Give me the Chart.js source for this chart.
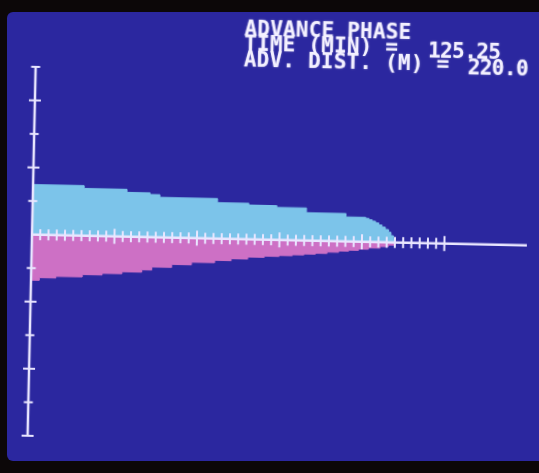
<!DOCTYPE html>
<html>
<head>
<meta charset="utf-8">
<script src="https://cdn.jsdelivr.net/npm/chart.js@4.4.1/dist/chart.umd.min.js"></script>
<style>
  html, body { margin: 0; padding: 0; background: #0c0708; }
  body { width: 539px; height: 473px; position: relative; overflow: hidden; }
  #screen {
    position: absolute; left: 7px; top: 12px; width: 532px; height: 449px;
    background: #2b279f; border-radius: 6px 0 0 6px;
  }
  #tilt {
    position: absolute; left: 0; top: 0; width: 539px; height: 473px;
    transform: rotate(1.25deg); transform-origin: 269.5px 236.5px;
  }
  #pmChart { position: absolute; left: 0; top: 0; }
  .txt {
    position: absolute; color: #f3f0ff; white-space: pre;
    font: bold 21px "DejaVu Sans Mono", monospace; line-height: 21px;
    letter-spacing: 0.2px; text-shadow: 0 0 2px rgba(255,255,255,0.45);
  }
  .num { letter-spacing: -0.6px; }
</style>
</head>
<body>
<div id="screen"></div>
<div id="tilt">
  <canvas id="pmChart" width="539" height="473"></canvas>
  <div class="txt" style="left:240px; top:19px;">ADVANCE PHASE</div>
  <div class="txt" style="left:240px; top:34px;">TIME (MIN) =</div>
  <div class="txt num" style="left:424px; top:37px;">125.25</div>
  <div class="txt" style="left:240px; top:50px;">ADV. DIST. (M) =</div>
  <div class="txt num" style="left:464px; top:53px;">220.0</div>
</div>
<script>
// surface water depth (above the axis), step starts in metres
const surfDist  = [0, 31, 57, 71, 77, 112, 131, 148, 166, 190, 202, 204, 206, 208, 210, 212, 214, 216, 217.5, 219, 220];
const surfDepth = [1.49, 1.41, 1.32, 1.27, 1.19, 1.07, 1.02, 0.97, 0.83, 0.73, 0.70, 0.66, 0.62, 0.57, 0.51, 0.45, 0.38, 0.30, 0.20, 0.10, 0];

// infiltrated depth (below the axis)
const infDist  = [0, 5, 15, 31, 43, 55, 67, 73, 85, 97, 111, 121, 131, 141, 150, 158, 165, 172, 179, 186, 192, 198, 204, 211, 216, 220];
const infDepth = [1.36, 1.28, 1.23, 1.16, 1.11, 1.05, 0.98, 0.89, 0.80, 0.72, 0.65, 0.59, 0.53, 0.49, 0.46, 0.43, 0.40, 0.37, 0.33, 0.29, 0.26, 0.22, 0.18, 0.13, 0.08, 0];

// axis marks
const xTicks = [5, 10, 15, 20, 25, 30, 35, 40, 45, 50, 55, 60, 65, 70, 75, 80, 85, 90, 95, 100,
                105, 110, 115, 120, 125, 130, 135, 140, 145, 150, 155, 160, 165, 170, 175, 180, 185, 190, 195, 200,
                205, 210, 215, 220, 225, 230, 235, 240, 245, 250];
const xMajorTicks = [50, 100, 150, 200, 250];
const yTicks = [5, 4, 3, 2, 1, -1, -2, -3, -4, -5, -6];
const xMax = 300;
const yMin = -6;
const yMax = 5;

const lineColor = '#e9e6ff';

const surfPoints = surfDist.map((d, i) => ({ x: d, y: surfDepth[i] }));
const infPoints = infDist.map((d, i) => ({ x: d, y: -infDepth[i] }));

const chart = new Chart('pmChart', {
    type: 'line',
    data: {
        datasets: [
            {
                label: 'x ticks',
                data: xTicks.map(v => ({ x: v, y: 0 })),
                showLine: false,
                pointStyle: 'line',
                rotation: 90,
                radius: (ctx) => xMajorTicks.includes(xTicks[ctx.dataIndex]) ? 7.5 : 5.5,
                borderColor: lineColor,
                borderWidth: 2,
                clip: false,
                order: 0
            },
            {
                label: 'y ticks',
                data: yTicks.map(v => ({ x: 0, y: v })),
                showLine: false,
                pointStyle: 'line',
                rotation: 0,
                radius: (ctx) => yTicks[ctx.dataIndex] % 2 === 0 ? 6 : 4.5,
                borderColor: lineColor,
                borderWidth: 2,
                clip: false,
                order: 0
            },
            {
                label: 'x axis',
                data: [{ x: 0, y: 0 }, { x: xMax, y: 0 }],
                borderColor: lineColor,
                borderWidth: 2.5,
                pointRadius: 0,
                clip: false,
                order: 1
            },
            {
                label: 'y axis',
                data: [{ x: 0, y: yMin }, { x: 0, y: yMax }],
                borderColor: lineColor,
                borderWidth: 2.5,
                pointRadius: 0,
                clip: false,
                order: 1
            },
            {
                label: 'surface',
                data: surfPoints,
                stepped: true,
                fill: 'origin',
                backgroundColor: '#7cc4ea',
                borderColor: '#7cc4ea',
                borderWidth: 1,
                pointRadius: 0,
                order: 2
            },
            {
                label: 'infiltration',
                data: infPoints,
                stepped: true,
                fill: 'origin',
                backgroundColor: '#cd70c5',
                borderColor: '#cd70c5',
                borderWidth: 1,
                pointRadius: 0,
                order: 2
            }
        ]
    },
    options: {
        responsive: false,
        animation: false,
        devicePixelRatio: 1,
        layout: {
            padding: { left: 32, right: 12, top: 72, bottom: 32 }
        },
        plugins: {
            legend: { display: false },
            tooltip: { enabled: false },
            title: { display: false }
        },
        scales: {
            x: { type: 'linear', min: 0, max: xMax, display: false },
            y: { type: 'linear', min: yMin, max: yMax, display: false }
        }
    }
});
</script>
</body>
</html>
